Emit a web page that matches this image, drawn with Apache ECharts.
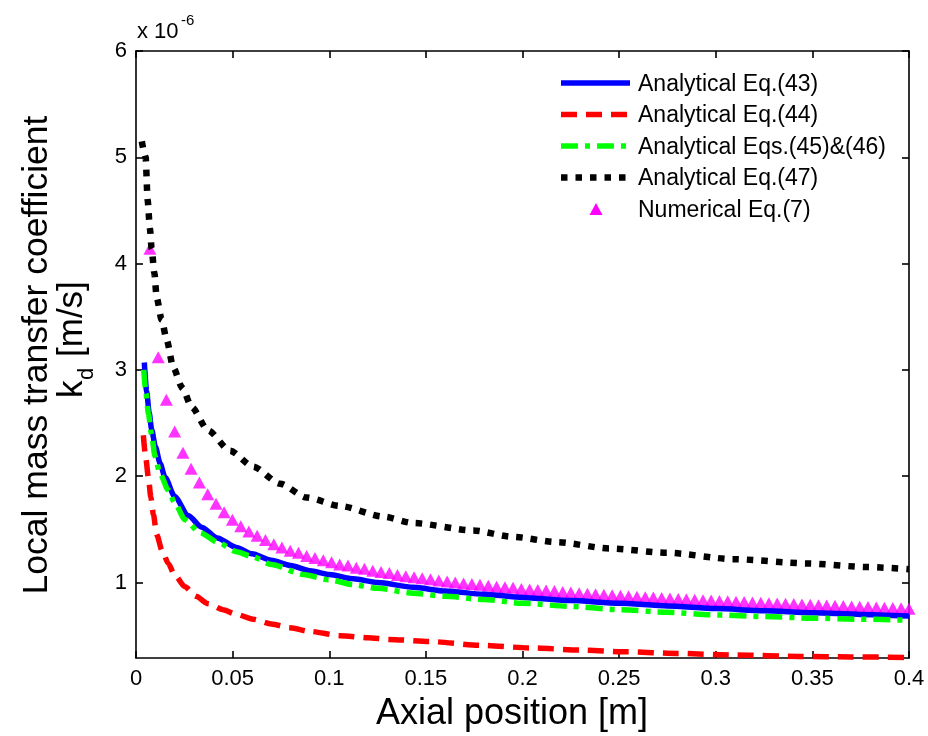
<!DOCTYPE html>
<html><head><meta charset="utf-8">
<script src="https://cdn.jsdelivr.net/npm/echarts@6/dist/echarts.min.js"></script>
<style>html,body{margin:0;padding:0;background:#fff}#c{width:928px;height:736px}</style>
</head><body><div id="c"></div>
<script>
// values in units of 1e-6 m/s
const xTicks = [0, 0.05, 0.1, 0.15, 0.2, 0.25, 0.3, 0.35, 0.4];
const yTicks = [1, 2, 3, 4, 5, 6];
const seriesNames = ['Analytical Eq.(43)', 'Analytical Eq.(44)', 'Analytical Eqs.(45)&(46)', 'Analytical Eq.(47)', 'Numerical Eq.(7)'];

const eq43 = [[0.0043,3.07],[0.0055,2.80],[0.0068,2.60],[0.0081,2.44],[0.0100,2.28],[0.0125,2.12],[0.015,1.99],[0.02,1.81],[0.027,1.63],[0.034,1.52],[0.042,1.42],[0.052,1.33],[0.06,1.27],[0.07,1.21],[0.08,1.16],[0.09,1.11],[0.1,1.075],[0.1125,1.035],[0.125,1.0],[0.1435,0.955],[0.16,0.92],[0.18,0.89],[0.2,0.86],[0.225,0.83],[0.25,0.805],[0.275,0.78],[0.3,0.755],[0.325,0.735],[0.35,0.715],[0.375,0.70],[0.4,0.685]];

const eq44 = [[0.0038,2.385],[0.0050,2.18],[0.0064,1.99],[0.0077,1.80],[0.009,1.64],[0.0107,1.45],[0.0135,1.30],[0.0167,1.18],[0.02,1.07],[0.0254,0.96],[0.031,0.87],[0.0374,0.80],[0.045,0.745],[0.0512,0.705],[0.0607,0.655],[0.07,0.61],[0.0797,0.575],[0.09,0.54],[0.1056,0.50],[0.12,0.48],[0.131,0.465],[0.152,0.445],[0.178,0.41],[0.204,0.385],[0.23,0.365],[0.254,0.348],[0.28,0.333],[0.31,0.318],[0.3436,0.305],[0.37,0.30],[0.4,0.295]];

const eq4546 = [[0.0040,3.00],[0.0052,2.78],[0.0064,2.59],[0.0080,2.40],[0.0098,2.19],[0.0125,2.02],[0.0167,1.87],[0.02,1.75],[0.0254,1.59],[0.033,1.47],[0.0435,1.366],[0.052,1.29],[0.0607,1.24],[0.07,1.17],[0.0866,1.075],[0.1,1.025],[0.1125,0.98],[0.125,0.945],[0.1435,0.90],[0.16,0.87],[0.18,0.84],[0.2,0.805],[0.225,0.775],[0.25,0.745],[0.275,0.72],[0.3,0.695],[0.325,0.68],[0.35,0.665],[0.375,0.655],[0.4,0.645]];

const eq47 = [[0.0030,5.15],[0.0050,5.0],[0.006,4.6],[0.0072,4.33],[0.0081,4.14],[0.0095,3.91],[0.0107,3.68],[0.0133,3.47],[0.0159,3.28],[0.0193,3.02],[0.024,2.83],[0.0288,2.65],[0.0373,2.43],[0.0486,2.24],[0.0606,2.09],[0.0745,1.93],[0.0883,1.80],[0.1056,1.72],[0.128,1.62],[0.1433,1.56],[0.1745,1.49],[0.195,1.43],[0.2177,1.38],[0.245,1.32],[0.2747,1.28],[0.309,1.22],[0.347,1.18],[0.378,1.146],[0.4,1.125]];

const numX = [0.0072,0.0115,0.0157,0.0200,0.0243,0.0285,0.0328,0.0371,0.0414,0.0456,0.0499,0.0542,0.0584,0.0627,0.0670,0.0713,0.0755,0.0798,0.0841,0.0883,0.0926,0.0969,0.1012,0.1054,0.1097,0.1140,0.1182,0.1225,0.1268,0.1311,0.1353,0.1396,0.1439,0.1481,0.1524,0.1567,0.1610,0.1652,0.1695,0.1738,0.1780,0.1823,0.1866,0.1909,0.1951,0.1994,0.2037,0.2079,0.2122,0.2165,0.2208,0.2250,0.2293,0.2336,0.2378,0.2421,0.2464,0.2507,0.2549,0.2592,0.2635,0.2677,0.2720,0.2763,0.2806,0.2848,0.2891,0.2934,0.2976,0.3019,0.3062,0.3105,0.3147,0.3190,0.3233,0.3275,0.3318,0.3361,0.3404,0.3446,0.3489,0.3532,0.3574,0.3617,0.3660,0.3703,0.3745,0.3788,0.3831,0.3873,0.3916,0.3959,0.4000];
const numY = [4.14,3.12,2.72,2.42,2.22,2.07,1.94,1.83,1.74,1.66,1.59,1.53,1.48,1.44,1.40,1.36,1.33,1.30,1.28,1.25,1.23,1.21,1.19,1.17,1.16,1.14,1.13,1.11,1.10,1.09,1.07,1.06,1.05,1.04,1.03,1.02,1.01,1.00,0.99,0.985,0.98,0.97,0.96,0.955,0.95,0.94,0.935,0.93,0.925,0.92,0.91,0.905,0.90,0.895,0.89,0.885,0.88,0.875,0.87,0.866,0.862,0.858,0.854,0.85,0.846,0.842,0.838,0.834,0.83,0.826,0.823,0.82,0.816,0.813,0.81,0.806,0.803,0.80,0.797,0.794,0.79,0.787,0.784,0.781,0.778,0.775,0.772,0.769,0.766,0.763,0.76,0.757,0.754];

const FONT = 'Liberation Sans, Arial, Helvetica, sans-serif';
const chart = echarts.init(document.getElementById('c'), null, {renderer: 'canvas'});

const styles = [
  {color: '#0000ff', width: 5.5, dash: null},
  {color: '#ff0000', width: 5.5, dash: [16, 9]},
  {color: '#00ff00', width: 5.5, dash: [17, 7, 5, 7]},
  {color: '#000000', width: 6.5, dash: [6.5, 8]}
];

function xAxisDef(pos, showLabel) {
  return {
    type: 'value', position: pos, min: 0, max: 0.4,
    axisLine: {onZero: false, lineStyle: {color: '#000', width: 1.6}},
    axisTick: {inside: true, length: 7, customValues: xTicks, lineStyle: {color: '#000', width: 1.6}},
    axisLabel: {show: showLabel, customValues: xTicks, color: '#000', fontSize: 22, fontFamily: FONT, margin: 10,
      formatter: v => String(+v.toFixed(2))},
    splitLine: {show: false}
  };
}
function yAxisDef(pos, showLabel) {
  return {
    type: 'value', position: pos, min: 0.29, max: 6,
    axisLine: {onZero: false, lineStyle: {color: '#000', width: 1.6}},
    axisTick: {inside: true, length: 7, customValues: yTicks, lineStyle: {color: '#000', width: 1.6}},
    axisLabel: {show: showLabel, customValues: yTicks, color: '#000', fontSize: 22, fontFamily: FONT, margin: 9,
      formatter: v => String(v)},
    splitLine: {show: false}
  };
}

const lineData = [eq43, eq44, eq4546, eq47];
const series = lineData.map((d, i) => ({
  type: 'line', name: seriesNames[i], data: d, showSymbol: false, symbol: 'none',
  smooth: 0.25, smoothMonotone: 'x', animation: false,
  lineStyle: {color: styles[i].color, width: styles[i].width, type: styles[i].dash || 'solid', cap: 'butt'},
  itemStyle: {color: styles[i].color}
}));
series.push({type: 'scatter', name: seriesNames[4], symbol: 'triangle', symbolSize: [13, 12],
  itemStyle: {color: '#ff00ff'}, data: numX.map((x, i) => [x, numY[i]]), animation: false});

// legend drawn as graphic elements (no box, as in the reference)
const legX0 = 561, legX1 = 630, legTextX = 638, legY0 = 83, legStep = 31.5;
const legendEls = [];
seriesNames.forEach((n, i) => {
  const y = legY0 + i * legStep;
  if (i < 4) {
    legendEls.push({type: 'line', shape: {x1: legX0, y1: y, x2: legX1, y2: y},
      style: {stroke: styles[i].color, lineWidth: styles[i].width, lineDash: styles[i].dash || null, lineCap: 'butt'}});
  } else {
    legendEls.push({type: 'polygon', shape: {points: [[596, y - 6], [602.5, y + 6], [589.5, y + 6]]}, style: {fill: '#ff00ff'}});
  }
  legendEls.push({type: 'text', x: legTextX, y: y + 1.5, style: {text: n, font: '23px ' + FONT, fill: '#000', align: 'left', verticalAlign: 'middle'}});
});

const option = {
  animation: false,
  backgroundColor: '#fff',
  grid: {left: 136, right: 19, top: 51, bottom: 78, containLabel: false},
  xAxis: [xAxisDef('bottom', true), xAxisDef('top', false)],
  yAxis: [yAxisDef('left', true), yAxisDef('right', false)],
  series: series,
  graphic: [
    {type: 'text', left: 137, top: 21, style: {text: 'x 10', font: '22px ' + FONT, fill: '#000'}},
    {type: 'text', left: 181, top: 13, style: {text: '-6', font: '15px ' + FONT, fill: '#000'}},
    {type: 'text', x: 37, y: 355, rotation: Math.PI / 2, style: {text: 'Local mass transfer coefficient', font: '35.5px ' + FONT, fill: '#000', align: 'center', verticalAlign: 'middle'}},
    {type: 'text', x: 72, y: 398, rotation: Math.PI / 2, style: {text: 'k', font: '35px ' + FONT, fill: '#000', align: 'left', verticalAlign: 'middle'}},
    {type: 'text', x: 87, y: 380, rotation: Math.PI / 2, style: {text: 'd', font: '22px ' + FONT, fill: '#000', align: 'left', verticalAlign: 'middle'}},
    {type: 'text', x: 72, y: 357, rotation: Math.PI / 2, style: {text: '[m/s]', font: '35px ' + FONT, fill: '#000', align: 'left', verticalAlign: 'middle'}},
    {type: 'text', x: 512, y: 714, style: {text: 'Axial position [m]', font: '36px ' + FONT, fill: '#000', align: 'center', verticalAlign: 'middle'}}
  ].concat(legendEls)
};
chart.setOption(option);
</script>
</body></html>
